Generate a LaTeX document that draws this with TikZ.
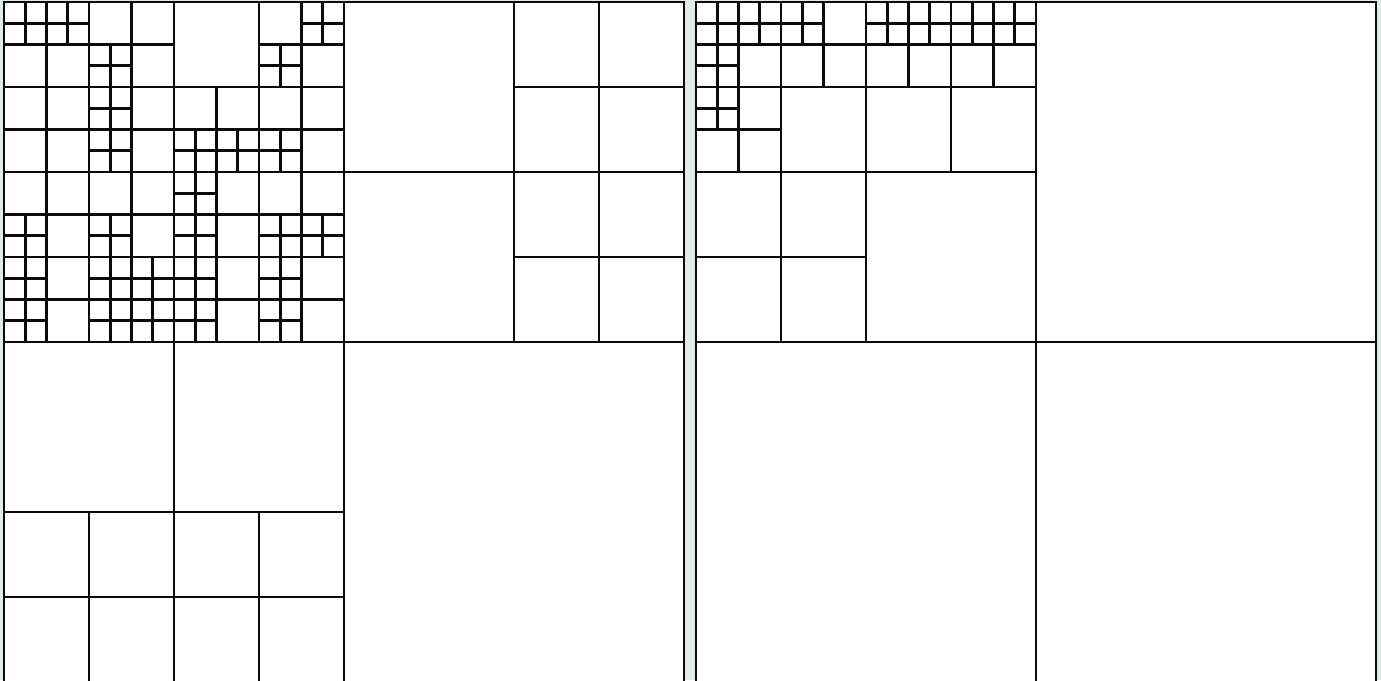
\documentclass[tikz,border=0pt]{standalone}
\usepackage{tikz}
\usepackage{xcolor}
\definecolor{qtPaper}{HTML}{E2EBE7}
\definecolor{qtInk}{HTML}{0A0A0A}
\tikzset{
  qline/.style={draw=qtInk, line width=1.3pt},
  qpanel/.style={qline, fill=white},
}

\begin{document}
\begin{tikzpicture}[x=0.5pt,y=-0.5pt]
            \useasboundingbox (0,0) rectangle (1381,680);
            \fill[qtPaper] (0,0) rectangle (1381,680);
            \clip (0,0) rectangle (1381,680);
            % left quadtree (grid unit = smallest cell)
            \begin{scope}[xshift=2pt,yshift=-1pt,x=10.625pt,y=-10.625pt]
                \draw[qpanel] (0,0) rectangle (32,32);
                % levels 0-2
                \foreach \x/\y/\s in {0/0/32, 0/0/16, 16/0/16, 0/16/16, 0/0/8, 8/0/8, 0/8/8, 8/8/8, 24/0/8, 24/8/8, 0/24/8, 8/24/8} {
                    \draw[qline] (\x,\y+\s/2) -- ++(\s,0) (\x+\s/2,\y) -- ++(0,\s);
                }
                % level 3
                \foreach \x/\y in {0/0, 4/0, 0/4, 4/4, 12/0, 8/4, 12/4, 0/8, 4/8, 0/12, 4/12, 8/8, 12/8, 8/12, 12/12} {
                    \draw[qline] (\x,\y+2) -- ++(4,0) (\x+2,\y) -- ++(0,4);
                }
                % level 4
                \foreach \x/\y in {0/0, 2/0, 4/2, 4/4, 4/6, 14/0, 12/2, 8/6, 10/6, 12/6, 0/10, 4/10, 0/12, 0/14, 4/12, 6/12, 4/14, 6/14, 8/8, 8/10, 12/10, 14/10, 8/12, 8/14, 12/12, 12/14} {
                    \draw[qline] (\x,\y+1) -- ++(2,0) (\x+1,\y) -- ++(0,2);
                }
            \end{scope}
            % right quadtree
            \begin{scope}[xshift=348pt,yshift=-1pt,x=10.625pt,y=-10.625pt]
                \draw[qpanel] (0,0) rectangle (32,32);
                \foreach \x/\y/\s in {0/0/32, 0/0/16, 0/0/8, 8/0/8, 0/8/8} {
                    \draw[qline] (\x,\y+\s/2) -- ++(\s,0) (\x+\s/2,\y) -- ++(0,\s);
                }
                \foreach \x/\y in {0/0, 4/0, 0/4, 8/0, 12/0} {
                    \draw[qline] (\x,\y+2) -- ++(4,0) (\x+2,\y) -- ++(0,4);
                }
                \foreach \x/\y in {0/0, 2/0, 0/2, 4/0, 0/4, 8/0, 10/0, 12/0, 14/0} {
                    \draw[qline] (\x,\y+1) -- ++(2,0) (\x+1,\y) -- ++(0,2);
                }
            \end{scope}
        \end{tikzpicture}
\end{document}
